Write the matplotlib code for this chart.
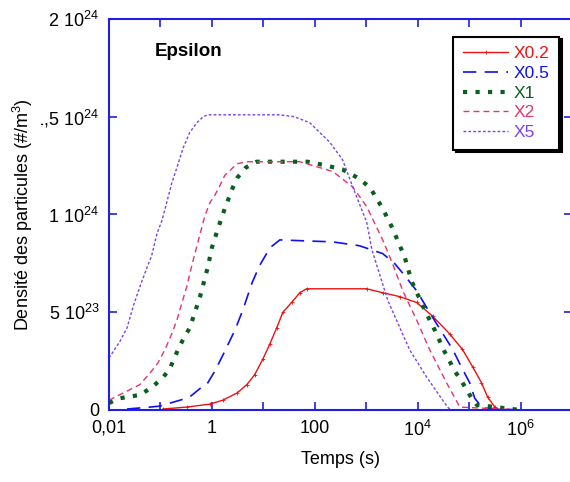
import numpy as np
import matplotlib
matplotlib.use("Agg")
import matplotlib.pyplot as plt
from matplotlib.ticker import FixedLocator, FixedFormatter

plt.rcParams["font.family"] = ["Liberation Sans", "DejaVu Sans"]
plt.rcParams["mathtext.default"] = "regular"

# données (log10 du temps en s, densité en 1e23 #/m3)
logt_02 = [-0.95, -0.49, -0.04, 0.21, 0.49, 0.68, 0.83, 0.99, 1.13, 1.26, 1.38, 1.55,
           1.71, 1.84, 3.01, 3.32, 3.65, 3.98, 4.29, 4.62, 4.87, 5.07, 5.24, 5.36, 5.50, 5.59, 6.0]
dens_02 = [0.05, 0.15, 0.3, 0.5, 0.87, 1.3, 1.8, 2.6, 3.4, 4.2, 5.0, 5.5,
           6.0, 6.2, 6.2, 6.0, 5.8, 5.5, 4.8, 3.9, 3.1, 2.2, 1.4, 0.66, 0.15, 0.0, 0.0]

logt_05 = [-1.65, -1.20, -1.01, -0.82, -0.62, -0.43, -0.23, -0.10, 0.06, 0.25, 0.45, 0.60,
           0.78, 0.93, 1.13, 1.32, 2.35, 2.87, 3.32, 3.55, 3.71, 3.98, 4.23, 4.49, 4.68,
           4.85, 5.01, 5.11, 5.26, 6.0]
dens_05 = [0.05, 0.15, 0.2, 0.35, 0.5, 0.67, 1.1, 1.3, 2.0, 3.0, 4.1, 5.1,
           6.5, 7.4, 8.3, 8.7, 8.6, 8.4, 8.0, 7.5, 7.0, 6.1, 5.0, 3.9, 3.1,
           2.2, 1.4, 0.6, 0.1, 0.0]

logt_1 = [-2.0, -1.79, -1.40, -1.20, -0.97, -0.82, -0.64, -0.54, -0.43, -0.23, -0.08, 0.0,
          0.12, 0.25, 0.41, 0.50, 0.66, 0.87, 1.86, 2.23, 2.54, 2.82, 3.07, 3.32, 3.51,
          3.75, 3.88, 4.14, 4.33, 4.52, 4.72, 4.87, 5.05, 5.15, 6.0]
dens_1 = [0.36, 0.6, 0.77, 1.1, 1.6, 2.1, 3.2, 3.7, 4.2, 5.8, 7.3, 8.3,
          9.3, 10.3, 11.4, 11.9, 12.4, 12.7, 12.7, 12.5, 12.3, 11.9, 11.4, 10.3, 9.3,
          7.8, 6.6, 5.1, 4.1, 3.0, 2.0, 1.4, 0.6, 0.26, 0.0]

logt_2 = [-2.0, -1.40, -1.20, -1.05, -0.91, -0.78, -0.68, -0.58, -0.49, -0.37, -0.27,
          -0.14, -0.04, 0.06, 0.16, 0.25, 0.49, 0.70, 1.71, 2.35, 2.74, 3.01, 3.32, 3.51,
          3.71, 3.98, 4.23, 4.56, 4.82, 6.0]
dens_2 = [0.5, 1.3, 1.9, 2.4, 3.1, 3.9, 4.6, 5.5, 6.3, 7.6, 8.6,
          9.9, 10.6, 11.0, 11.5, 12.0, 12.6, 12.7, 12.7, 12.2, 11.4, 10.4, 8.7, 7.5,
          6.1, 4.6, 3.1, 1.4, 0.15, 0.0]

logt_5 = [-2.0, -1.79, -1.65, -1.53, -1.40, -1.26, -1.17, -1.07, -0.97, -0.87, -0.78, -0.68,
          -0.56, -0.43, -0.29, -0.17, -0.08, 1.32, 1.60, 1.90, 2.29, 2.54, 2.74, 3.01, 3.11,
          3.42, 3.84, 4.17, 4.58, 4.65, 6.0]
dens_5 = [2.66, 3.5, 4.2, 5.3, 6.3, 7.3, 7.9, 9.0, 9.7, 10.7, 11.6, 12.4,
          13.4, 14.2, 14.7, 15.0, 15.1, 15.1, 15.0, 14.7, 13.7, 12.8, 11.4, 9.6, 8.2,
          5.6, 3.1, 1.7, 0.15, 0.0, 0.0]

x_ticks = [1e-2, 1e-1, 1, 10, 100, 1e3, 1e4, 1e5, 1e6, 1e7]
x_labels = ["0,01", "", "1", "", "100", "", "$10^4$", "", "$10^6$", ""]
y_ticks = [0, 5e23, 1e24, 1.5e24, 2e24]
y_labels = ["0", "5 $10^{23}$", "1 $10^{24}$", "1,5 $10^{24}$", "2 $10^{24}$"]

blue_ax = "#1f1fe6"

fig = plt.figure(figsize=(5.7, 4.82), dpi=100)
ax = fig.add_axes([109 / 570, 72 / 482, 463 / 570, 391 / 482])


def t(lg):
    return 10 ** np.array(lg)


def d(v):
    return np.array(v) * 1e23


ax.plot(t(logt_02), d(dens_02), color="#ee1111", lw=1.0, marker="+", ms=2.5, mew=0.6,
        label="X0.2")
ax.plot(t(logt_05), d(dens_05), color="#1010ee", lw=1.2, dashes=(8, 5), label="X0.5")
ax.plot(t(logt_1), d(dens_1), color="#0a5e1e", lw=3.0, dashes=(1, 2), label="X1")
ax.plot(t(logt_2), d(dens_2), color="#e8336b", lw=1.0, dashes=(4.3, 2.9), label="X2")
ax.plot(t(logt_5), d(dens_5), color="#7f3fef", lw=1.0, dashes=(2, 1.5), label="X5")

ax.set_xscale("log")
ax.set_xlim(1e-2, 1e7)
ax.set_ylim(0, 2e24)
ax.xaxis.set_major_locator(FixedLocator(x_ticks))
ax.xaxis.set_major_formatter(FixedFormatter(x_labels))
ax.xaxis.set_minor_locator(FixedLocator([]))
ax.yaxis.set_major_locator(FixedLocator(y_ticks))
ax.yaxis.set_major_formatter(FixedFormatter(y_labels))

for sp in ax.spines.values():
    sp.set_color(blue_ax)
    sp.set_linewidth(1.5)
ax.tick_params(which="both", direction="in", top=True, right=True, color=blue_ax,
               length=6, width=1.2, labelsize=13, pad=7)

ax.set_xlabel("Temps (s)", fontsize=13, labelpad=8)
ax.set_ylabel("Densité des particules (#/m$^3$)", fontsize=13,
              bbox=dict(facecolor="white", edgecolor="none", pad=4))
ax.yaxis.set_label_coords(-0.16, 0.5)

ax.text(0.099, 0.916, "Epsilon", transform=ax.transAxes, fontsize=13.5,
        fontweight="bold", ha="left", va="center")

leg = ax.legend(loc="upper left", bbox_to_anchor=(0.744, 0.955), fontsize=12.5,
                labelcolor="linecolor", fancybox=False, shadow={"color": "black", "alpha": 1},
                edgecolor="black", framealpha=1, handlelength=2.6, handletextpad=0.3,
                labelspacing=0.26, borderpad=0.55, borderaxespad=0)
leg.get_frame().set_linewidth(1.5)

fig.savefig("out.png", dpi=100)
